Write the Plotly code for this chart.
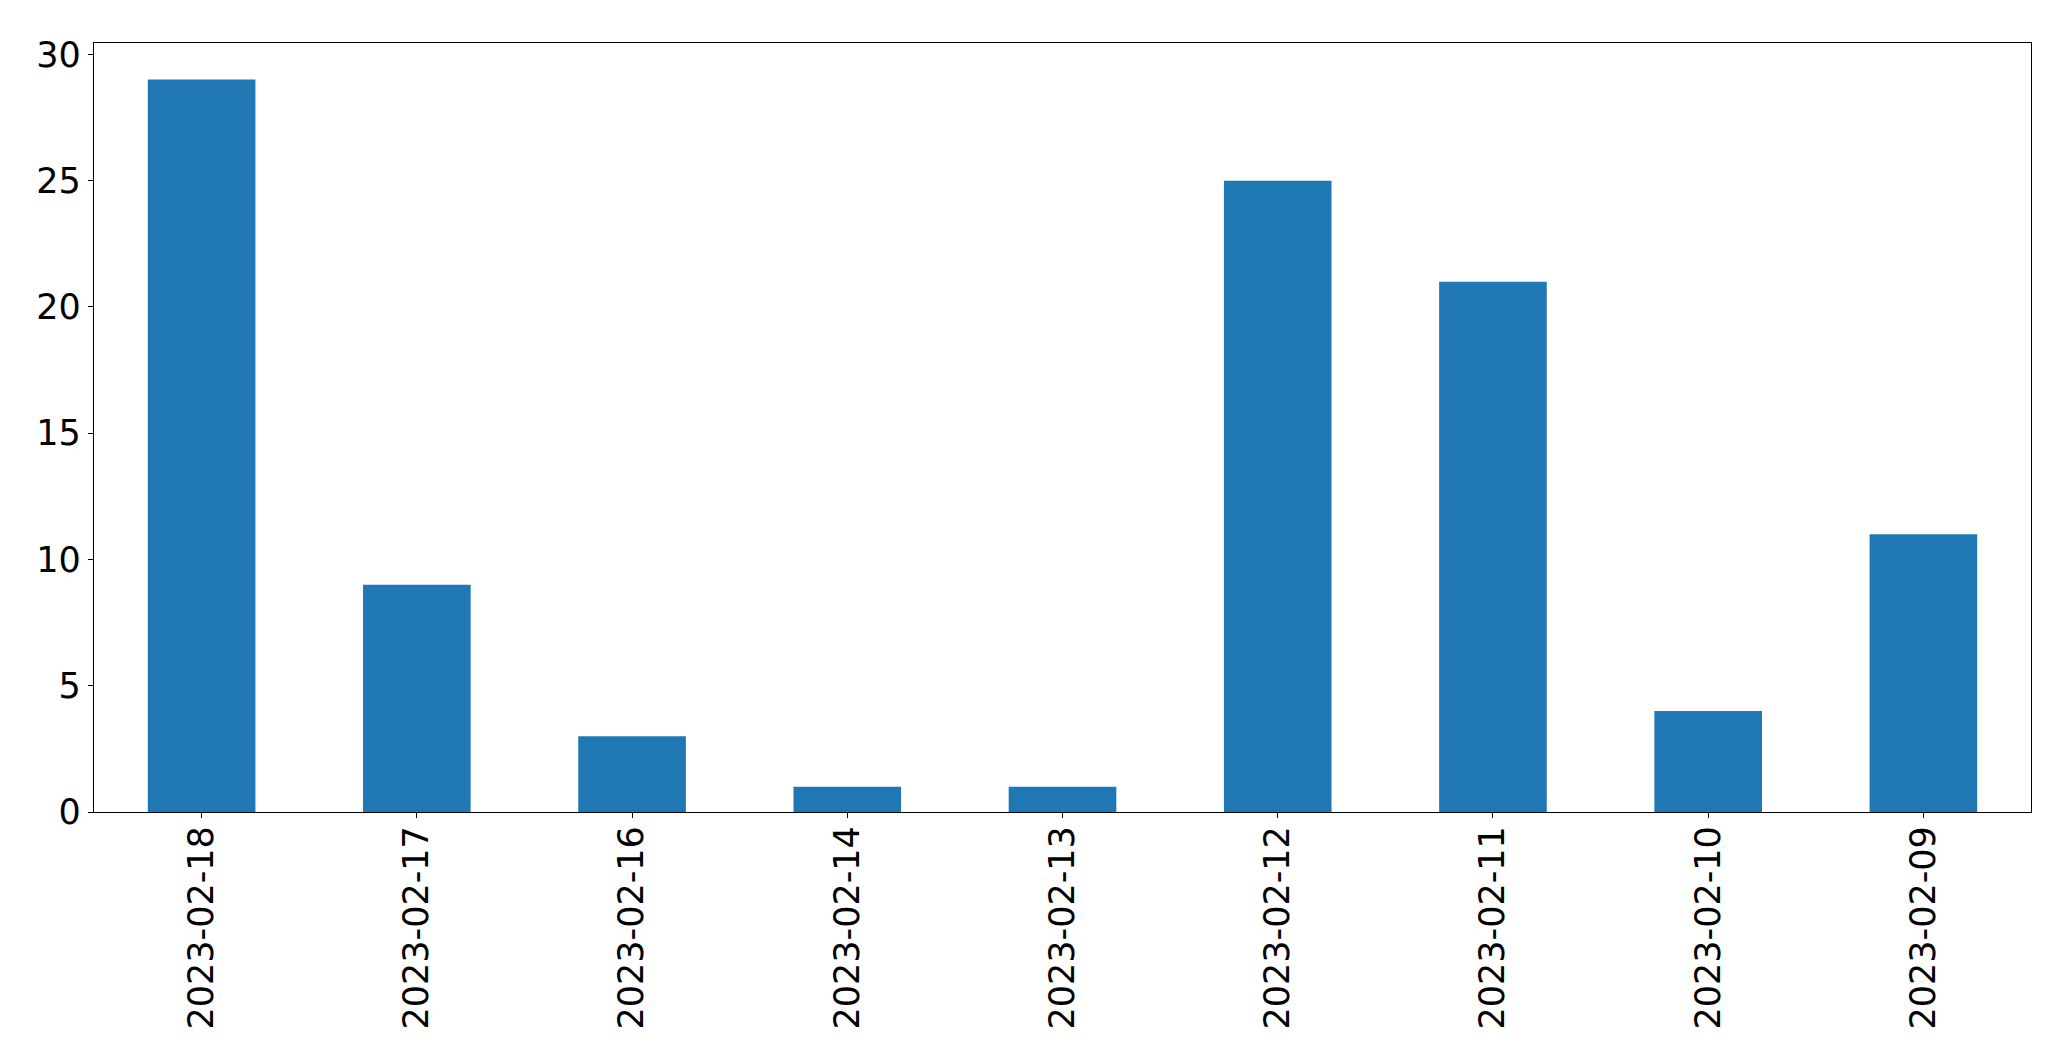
import plotly.graph_objects as go

dates = ["2023-02-18", "2023-02-17", "2023-02-16", "2023-02-14", "2023-02-13",
         "2023-02-12", "2023-02-11", "2023-02-10", "2023-02-09"]
counts = [29, 9, 3, 1, 1, 25, 21, 4, 11]
y_ticks = [0, 5, 10, 15, 20, 25, 30]

fig = go.Figure(go.Bar(x=list(range(len(dates))), y=counts, width=0.5,
                       marker=dict(color="#1f77b4", line=dict(width=0))))

# page body has an 8px margin, so the figure is shrunk by 8px and margins shifted
fig.update_layout(
    width=2063, height=1056,
    margin=dict(l=86, r=40, t=35, b=252),
    plot_bgcolor="white", paper_bgcolor="white",
    font=dict(family="DejaVu Sans", size=35, color="black"),
    showlegend=False,
)
fig.update_xaxes(range=[-0.5, len(dates) - 0.5], tickmode="array",
                 tickvals=list(range(len(dates))), ticktext=dates, tickangle=-90,
                 showline=True, linecolor="black", linewidth=1.3, mirror=True,
                 ticks="outside", ticklen=5, tickwidth=1.3, tickcolor="black",
                 ticklabelstandoff=-6,
                 showgrid=False, zeroline=False)
fig.update_yaxes(range=[0, 30.45], tickmode="array", tickvals=y_ticks,
                 showline=True, linecolor="black", linewidth=1.3, mirror=True,
                 ticks="outside", ticklen=5, tickwidth=1.3, tickcolor="black",
                 showgrid=False, zeroline=False)

fig.write_html("out.html")
